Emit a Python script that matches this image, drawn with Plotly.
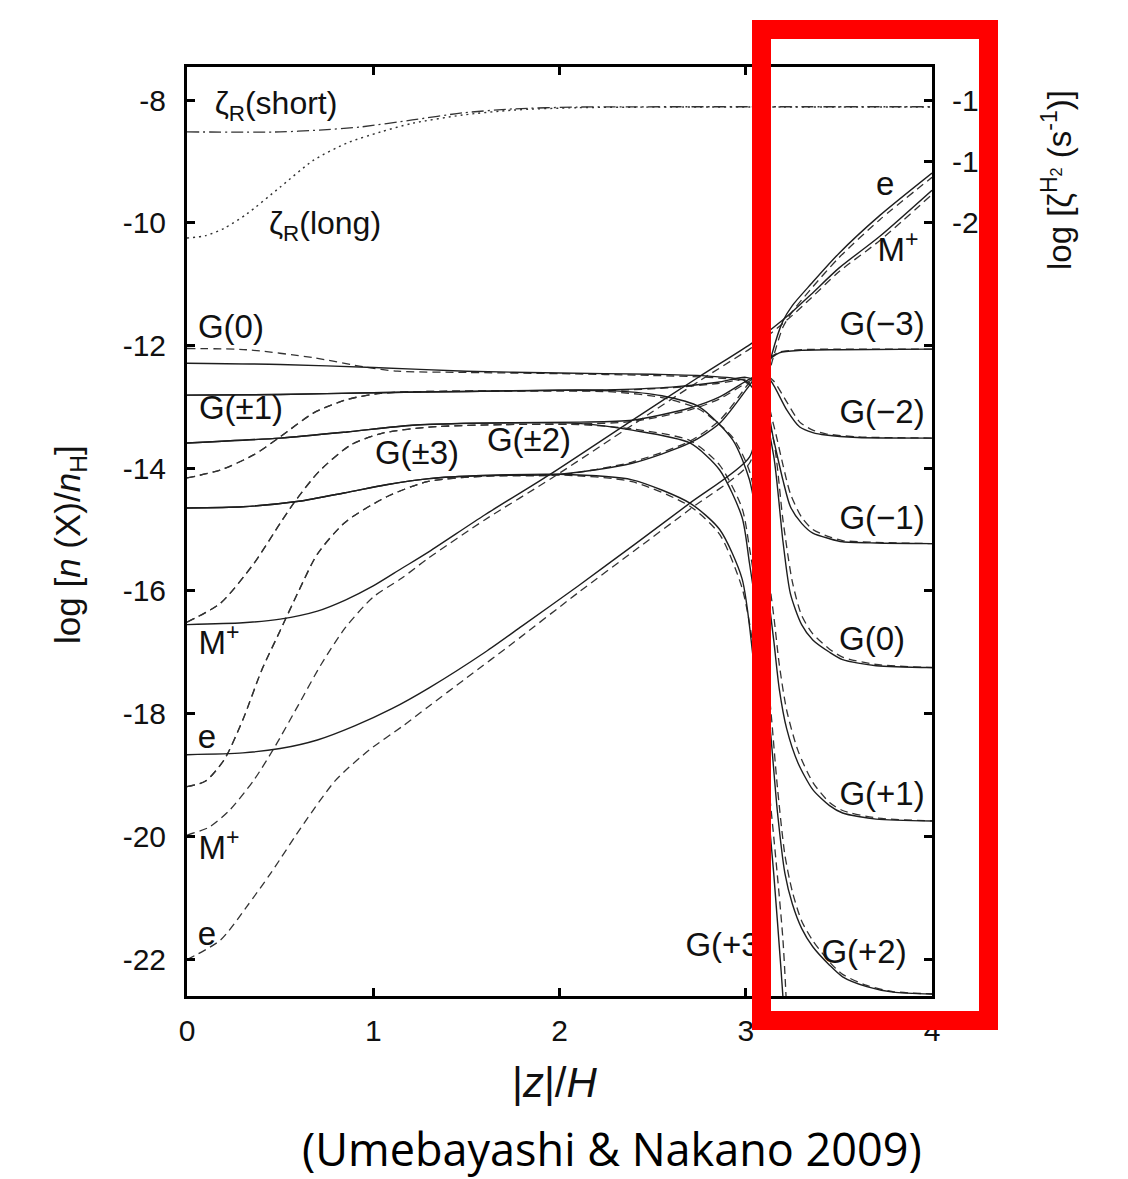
import plotly.graph_objects as go

# ---------------- data ----------------
# ionisation rates (right axis, log zeta)
ZS_x = [0, 0.5, 0.71, 0.93, 1.21, 1.48, 1.75, 2.09, 2.6, 3.2, 4.0]
ZS_y = [-18.04, -18.04, -17.98, -17.88, -17.65, -17.42, -17.29, -17.23, -17.22, -17.22, -17.22]
ZL_x = [0, 0.1, 0.2, 0.32, 0.5, 0.68, 0.86, 1.04, 1.21, 1.48, 1.75, 2.09, 2.6, 3.2, 4.0]
ZL_y = [-21.5, -21.42, -21.18, -20.72, -19.84, -18.96, -18.4, -18.04, -17.76, -17.49, -17.33, -17.25, -17.23, -17.23, -17.23]

# solid curves
G0_S_x = [0, 0.5, 1.0, 1.5, 2.0, 2.5, 2.8, 3.0, 3.08, 3.15, 3.2, 3.24, 3.3, 3.36, 3.45, 3.52, 3.7, 4.0]
G0_S_y = [-12.29, -12.31, -12.36, -12.42, -12.45, -12.47, -12.5, -12.58, -12.9, -13.8, -15.2, -16.05, -16.55, -16.8, -17.0, -17.12, -17.22, -17.25]
Gm1_S_x = [0, 0.5, 1.0, 1.5, 2.0, 2.3, 2.6, 2.85, 3.0, 3.08, 3.15, 3.2, 3.24, 3.3, 3.36, 3.45, 3.52, 3.7, 4.0]
Gm1_S_y = [-12.81, -12.80, -12.77, -12.75, -12.73, -12.72, -12.68, -12.6, -12.52, -12.62, -13.54, -14.2, -14.63, -14.9, -15.06, -15.15, -15.2, -15.22, -15.23]
Gp1_S_x = [0, 0.5, 1.0, 1.5, 2.0, 2.3, 2.55, 2.75, 2.93, 3.02, 3.1, 3.15, 3.18, 3.22, 3.28, 3.36, 3.45, 3.52, 3.7, 4.0]
Gp1_S_y = [-12.81, -12.80, -12.77, -12.75, -12.73, -12.74, -12.82, -13.0, -13.54, -14.19, -15.6, -16.8, -17.6, -18.25, -18.8, -19.24, -19.5, -19.62, -19.72, -19.75]
Gm2_S_x = [0, 0.5, 0.86, 1.21, 1.75, 2.1, 2.39, 2.7, 2.86, 3.02, 3.1, 3.15, 3.22, 3.29, 3.36, 3.43, 3.6, 4.0]
Gm2_S_y = [-13.59, -13.51, -13.41, -13.3, -13.26, -13.25, -13.22, -13.02, -12.84, -12.55, -12.45, -12.65, -13.05, -13.33, -13.42, -13.46, -13.5, -13.51]
Gp2_S_x = [0, 0.5, 0.86, 1.21, 1.75, 2.1, 2.39, 2.7, 2.86, 2.98, 3.02, 3.08, 3.13, 3.17, 3.21, 3.25, 3.3, 3.36, 3.45, 3.52, 3.65, 3.79, 4.0]
Gp2_S_y = [-13.59, -13.51, -13.41, -13.3, -13.26, -13.27, -13.38, -13.59, -14.03, -14.8, -15.55, -16.8, -18.2, -19.6, -20.6, -21.1, -21.5, -21.8, -22.1, -22.29, -22.45, -22.54, -22.57]
Gm3_S_x = [0, 0.3, 0.6, 0.85, 1.07, 1.3, 1.6, 2.0, 2.39, 2.7, 2.86, 3.02, 3.1, 3.18, 3.3, 3.5, 4.0]
Gm3_S_y = [-14.65, -14.63, -14.54, -14.4, -14.27, -14.17, -14.12, -14.1, -13.92, -13.59, -13.27, -12.65, -12.3, -12.12, -12.08, -12.07, -12.06]
Gp3_S_x = [0, 0.3, 0.6, 0.85, 1.07, 1.3, 1.6, 2.0, 2.39, 2.7, 2.86, 2.98, 3.04, 3.1, 3.15, 3.19, 3.22]
Gp3_S_y = [-14.65, -14.63, -14.54, -14.4, -14.27, -14.17, -14.12, -14.1, -14.19, -14.57, -15.0, -15.8, -17.1, -18.9, -20.6, -22.2, -23.5]
E_S_x = [0, 0.3, 0.5, 0.7, 0.9, 1.1, 1.3, 1.6, 1.8, 2.1, 2.4, 2.7, 3.02, 3.08, 3.14, 3.2, 3.25, 3.35, 3.5, 3.72, 4.0]
E_S_y = [-18.67, -18.64, -18.57, -18.43, -18.2, -17.92, -17.58, -17.0, -16.57, -15.92, -15.25, -14.57, -13.82, -13.0, -12.15, -11.6, -11.35, -11.0, -10.5, -9.88, -9.19]
Mp_S_x = [0, 0.3, 0.5, 0.7, 0.85, 1.0, 1.15, 1.3, 1.6, 1.96, 2.39, 2.75, 3.02, 3.1, 3.2, 3.25, 3.35, 3.5, 3.72, 4.0]
Mp_S_y = [-16.55, -16.52, -16.46, -16.33, -16.15, -15.92, -15.64, -15.36, -14.76, -14.08, -13.22, -12.51, -11.99, -11.82, -11.58, -11.45, -11.17, -10.74, -10.22, -9.47]

# dashed curves
G0_D_x = [0, 0.32, 0.68, 0.95, 1.13, 1.5, 2.0, 2.5, 2.8, 3.0, 3.08, 3.15, 3.2, 3.25, 3.3, 3.36, 3.45, 3.52, 3.7, 4.0]
G0_D_y = [-12.05, -12.07, -12.2, -12.35, -12.42, -12.44, -12.46, -12.49, -12.52, -12.6, -12.85, -13.55, -14.85, -15.85, -16.4, -16.7, -16.95, -17.08, -17.2, -17.25]
Gm1_D_x = [0, 0.18, 0.36, 0.5, 0.68, 0.86, 1.04, 1.3, 2.0, 2.3, 2.6, 2.85, 3.0, 3.08, 3.15, 3.2, 3.24, 3.3, 3.36, 3.45, 3.52, 3.7, 4.0]
Gm1_D_y = [-14.16, -14.03, -13.78, -13.49, -13.1, -12.88, -12.78, -12.75, -12.74, -12.73, -12.69, -12.62, -12.55, -12.6, -13.3, -13.95, -14.42, -14.8, -15.0, -15.12, -15.18, -15.21, -15.23]
Gp1_D_x = [0, 0.18, 0.36, 0.5, 0.68, 0.86, 1.04, 1.3, 2.0, 2.3, 2.55, 2.75, 2.93, 3.02, 3.1, 3.15, 3.18, 3.22, 3.28, 3.36, 3.45, 3.52, 3.7, 4.0]
Gp1_D_y = [-14.16, -14.03, -13.78, -13.49, -13.1, -12.88, -12.78, -12.75, -12.74, -12.76, -12.85, -13.04, -13.5, -14.05, -15.3, -16.4, -17.2, -17.95, -18.6, -19.12, -19.45, -19.58, -19.7, -19.75]
Gm2_D_x = [0, 0.18, 0.36, 0.5, 0.59, 0.71, 0.88, 1.05, 1.3, 1.7, 2.1, 2.39, 2.7, 2.86, 3.02, 3.1, 3.15, 3.22, 3.29, 3.36, 3.43, 3.6, 4.0]
Gm2_D_y = [-16.51, -16.2, -15.55, -14.9, -14.5, -14.05, -13.62, -13.43, -13.33, -13.29, -13.28, -13.24, -13.05, -12.87, -12.58, -12.47, -12.58, -12.92, -13.25, -13.38, -13.44, -13.49, -13.51]
Gp2_D_x = [0, 0.18, 0.36, 0.5, 0.59, 0.71, 0.88, 1.05, 1.3, 1.7, 2.1, 2.39, 2.7, 2.86, 2.98, 3.02, 3.08, 3.13, 3.17, 3.21, 3.25, 3.3, 3.36, 3.45, 3.52, 3.65, 3.79, 4.0]
Gp2_D_y = [-16.51, -16.2, -15.55, -14.9, -14.5, -14.05, -13.62, -13.43, -13.33, -13.29, -13.29, -13.36, -13.55, -13.95, -14.65, -15.3, -16.5, -17.8, -19.2, -20.3, -20.9, -21.38, -21.7, -22.05, -22.25, -22.43, -22.53, -22.57]
Gm3_D_x = [0, 0.1, 0.2, 0.3, 0.4, 0.5, 0.6, 0.7, 0.85, 1.07, 1.29, 1.6, 2.0, 2.39, 2.7, 2.86, 3.02, 3.1, 3.18, 3.3, 3.5, 4.0]
Gm3_D_y = [-19.19, -19.1, -18.75, -18.1, -17.3, -16.65, -16.0, -15.4, -14.88, -14.47, -14.22, -14.13, -14.11, -13.9, -13.56, -13.22, -12.6, -12.27, -12.11, -12.07, -12.06, -12.06]
Gp3_D_x = [0, 0.1, 0.2, 0.3, 0.4, 0.5, 0.6, 0.7, 0.85, 1.07, 1.29, 1.6, 2.0, 2.39, 2.7, 2.86, 2.98, 3.04, 3.1, 3.15, 3.2, 3.23]
Gp3_D_y = [-19.19, -19.1, -18.75, -18.1, -17.3, -16.65, -16.0, -15.4, -14.88, -14.47, -14.22, -14.13, -14.11, -14.22, -14.62, -15.08, -15.95, -16.9, -18.5, -20.0, -21.7, -23.5]
Mp_D_x = [0, 0.12, 0.23, 0.36, 0.47, 0.6, 0.72, 0.85, 1.0, 1.15, 1.29, 1.6, 1.96, 2.39, 2.75, 3.02, 3.1, 3.2, 3.25, 3.35, 3.5, 3.72, 4.0]
Mp_D_y = [-19.98, -19.85, -19.57, -19.08, -18.55, -17.85, -17.2, -16.6, -16.1, -15.8, -15.48, -14.84, -14.16, -13.3, -12.58, -12.06, -11.89, -11.64, -11.51, -11.23, -10.8, -10.29, -9.54]
E_D_x = [0, 0.18, 0.32, 0.45, 0.63, 0.8, 0.98, 1.16, 1.29, 1.5, 1.75, 2.1, 2.4, 2.7, 3.02, 3.08, 3.14, 3.2, 3.25, 3.35, 3.5, 3.72, 4.0]
E_D_y = [-22.01, -21.69, -21.15, -20.6, -19.78, -19.08, -18.59, -18.2, -17.9, -17.42, -16.85, -16.03, -15.35, -14.67, -13.92, -13.12, -12.28, -11.7, -11.45, -11.08, -10.57, -9.95, -9.26]

# curve labels (text, x, y in left-axis data units)
LABEL_TEXT = ["G(0)", "G(±1)", "G(±3)", "G(±2)", "M<sup>+</sup>", "e", "M<sup>+</sup>", "e",
              "e", "M<sup>+</sup>", "G(−3)", "G(−2)", "G(−1)", "G(0)", "G(+1)", "G(+2)", "G(+3)"]
LABEL_X = [0.236, 0.29, 1.235, 1.836, 0.172, 0.107, 0.172, 0.107,
           3.748, 3.817, 3.732, 3.732, 3.732, 3.678, 3.732, 3.635, 2.905]
LABEL_Y = [-11.75, -13.07, -13.8, -13.59, -16.9, -18.43, -20.24, -21.64,
           -9.42, -10.49, -11.70, -13.13, -14.85, -16.83, -19.36, -21.93, -21.82]
ZETA_LABELS = ["ζ<sub>R</sub>(short)", "ζ<sub>R</sub>(long)"]
ZETA_LABEL_X = [0.478, 0.741]
ZETA_LABEL_Y = [-8.10, -10.05]

X_TICKS = [0, 1, 2, 3, 4]
Y_TICKS = [-8, -10, -12, -14, -16, -18, -20, -22]
Y2_TICKS = [-17, -19, -21]

# ---------------- figure ----------------
FONT = "Liberation Sans, Arial, sans-serif"
fig = go.Figure()

SOLID = dict(color="#1e1e1e", width=1.4, shape="spline", smoothing=0.7)
DASHED = dict(color="#333333", width=1.3, dash="8px,5px", shape="spline", smoothing=0.7)

dashed_sets = [(G0_D_x, G0_D_y), (Gm1_D_x, Gm1_D_y), (Gp1_D_x, Gp1_D_y), (Gm2_D_x, Gm2_D_y),
               (Gp2_D_x, Gp2_D_y), (Gm3_D_x, Gm3_D_y), (Gp3_D_x, Gp3_D_y), (Mp_D_x, Mp_D_y), (E_D_x, E_D_y)]
solid_sets = [(G0_S_x, G0_S_y), (Gm1_S_x, Gm1_S_y), (Gp1_S_x, Gp1_S_y), (Gm2_S_x, Gm2_S_y),
              (Gp2_S_x, Gp2_S_y), (Gm3_S_x, Gm3_S_y), (Gp3_S_x, Gp3_S_y), (Mp_S_x, Mp_S_y), (E_S_x, E_S_y)]

for xs, ys in dashed_sets:
    fig.add_trace(go.Scatter(x=xs, y=ys, mode="lines", line=DASHED, showlegend=False, hoverinfo="skip"))
for xs, ys in solid_sets:
    fig.add_trace(go.Scatter(x=xs, y=ys, mode="lines", line=SOLID, showlegend=False, hoverinfo="skip"))

# ionisation-rate curves on the right axis
fig.add_trace(go.Scatter(x=ZS_x, y=ZS_y, yaxis="y2", mode="lines",
                         line=dict(color="#333333", width=1.3, dash="12px,4px,2px,4px", shape="spline", smoothing=0.7),
                         showlegend=False, hoverinfo="skip"))
fig.add_trace(go.Scatter(x=ZL_x, y=ZL_y, yaxis="y2", mode="lines",
                         line=dict(color="#333333", width=1.4, dash="2px,4px", shape="spline", smoothing=0.7),
                         showlegend=False, hoverinfo="skip"))

# labels as text traces (so they stay underneath the highlight frame)
fig.add_trace(go.Scatter(x=LABEL_X, y=LABEL_Y, mode="text", text=LABEL_TEXT,
                         textfont=dict(family=FONT, size=33, color="#111111"),
                         textposition="middle center", showlegend=False, hoverinfo="skip",
                         cliponaxis=False))
fig.add_trace(go.Scatter(x=ZETA_LABEL_X, y=ZETA_LABEL_Y, mode="text", text=ZETA_LABELS,
                         textfont=dict(family=FONT, size=32, color="#111111"),
                         textposition="middle center", showlegend=False, hoverinfo="skip",
                         cliponaxis=False))

# The page body has an 8px margin; the figure is placed so the plot lands where the reference has it.
OFF = 8
L, T = 187 - OFF, 67 - OFF
PW, PH = 745, 929
W, H = 1128 - OFF, 1179 - OFF
R, B = W - L - PW, H - T - PH

def px_to_paper_x(px):
    return (px - OFF - L) / PW

def px_to_paper_y(py):
    return (T + PH - (py - OFF)) / PH

fig.update_layout(
    width=W, height=H,
    margin=dict(l=L, r=R, t=T, b=B, pad=0),
    paper_bgcolor="white", plot_bgcolor="white",
    font=dict(family=FONT, size=30, color="#111111"),
    xaxis=dict(range=[0, 4], tickvals=X_TICKS, ticktext=[str(v) for v in X_TICKS],
               ticks="inside", ticklen=8, tickwidth=3,
               tickcolor="black", showline=True, linewidth=3, linecolor="black", mirror="ticks",
               showgrid=False, zeroline=False, tickfont=dict(size=30), ticklabelstandoff=6),
    yaxis=dict(range=[-22.603, -7.462], tickvals=Y_TICKS, ticktext=[str(v) for v in Y_TICKS],
               ticks="inside", ticklen=8, tickwidth=3,
               tickcolor="black", showline=True, linewidth=3, linecolor="black", mirror="ticks",
               showgrid=False, zeroline=False, tickfont=dict(size=30), ticklabelstandoff=12),
    yaxis2=dict(range=[-46.206, -15.924], overlaying="y", side="right", tickvals=Y2_TICKS,
                ticktext=[str(v) for v in Y2_TICKS],
                ticks="inside", ticklen=8, tickwidth=3, tickcolor="black", showline=False,
                showgrid=False, zeroline=False, tickfont=dict(size=30), ticklabelstandoff=19),
    shapes=[dict(type="rect", xref="paper", yref="paper", layer="above",
                 x0=px_to_paper_x(761.5), x1=px_to_paper_x(988.5),
                 y0=px_to_paper_y(1020.5), y1=px_to_paper_y(29.5),
                 line=dict(color="#ff0000", width=19), fillcolor="rgba(0,0,0,0)")],
    annotations=[
        dict(text="|<i>z</i>|/<i>H</i>", xref="paper", yref="paper", x=px_to_paper_x(555),
             y=px_to_paper_y(1082), showarrow=False, font=dict(size=42), xanchor="center", yanchor="middle"),
        dict(text="log [<i>n</i> (X)/<i>n</i><sub>H</sub>]", xref="paper", yref="paper",
             x=px_to_paper_x(70), y=px_to_paper_y(545), showarrow=False, textangle=-90,
             font=dict(size=35), xanchor="center", yanchor="middle"),
        dict(text="log [ζ<sup>H<sub>2</sub></sup> (s<sup>-1</sup>)]", xref="paper", yref="paper",
             x=px_to_paper_x(1057), y=px_to_paper_y(180), showarrow=False, textangle=-90,
             font=dict(size=33), xanchor="center", yanchor="middle"),
        dict(text="(Umebayashi &amp; Nakano 2009)", xref="paper", yref="paper",
             x=px_to_paper_x(612), y=px_to_paper_y(1148), showarrow=False,
             font=dict(family="Open Sans, sans-serif", size=45, color="black"),
             xanchor="center", yanchor="middle"),
    ],
)

fig.write_html("out.html")
